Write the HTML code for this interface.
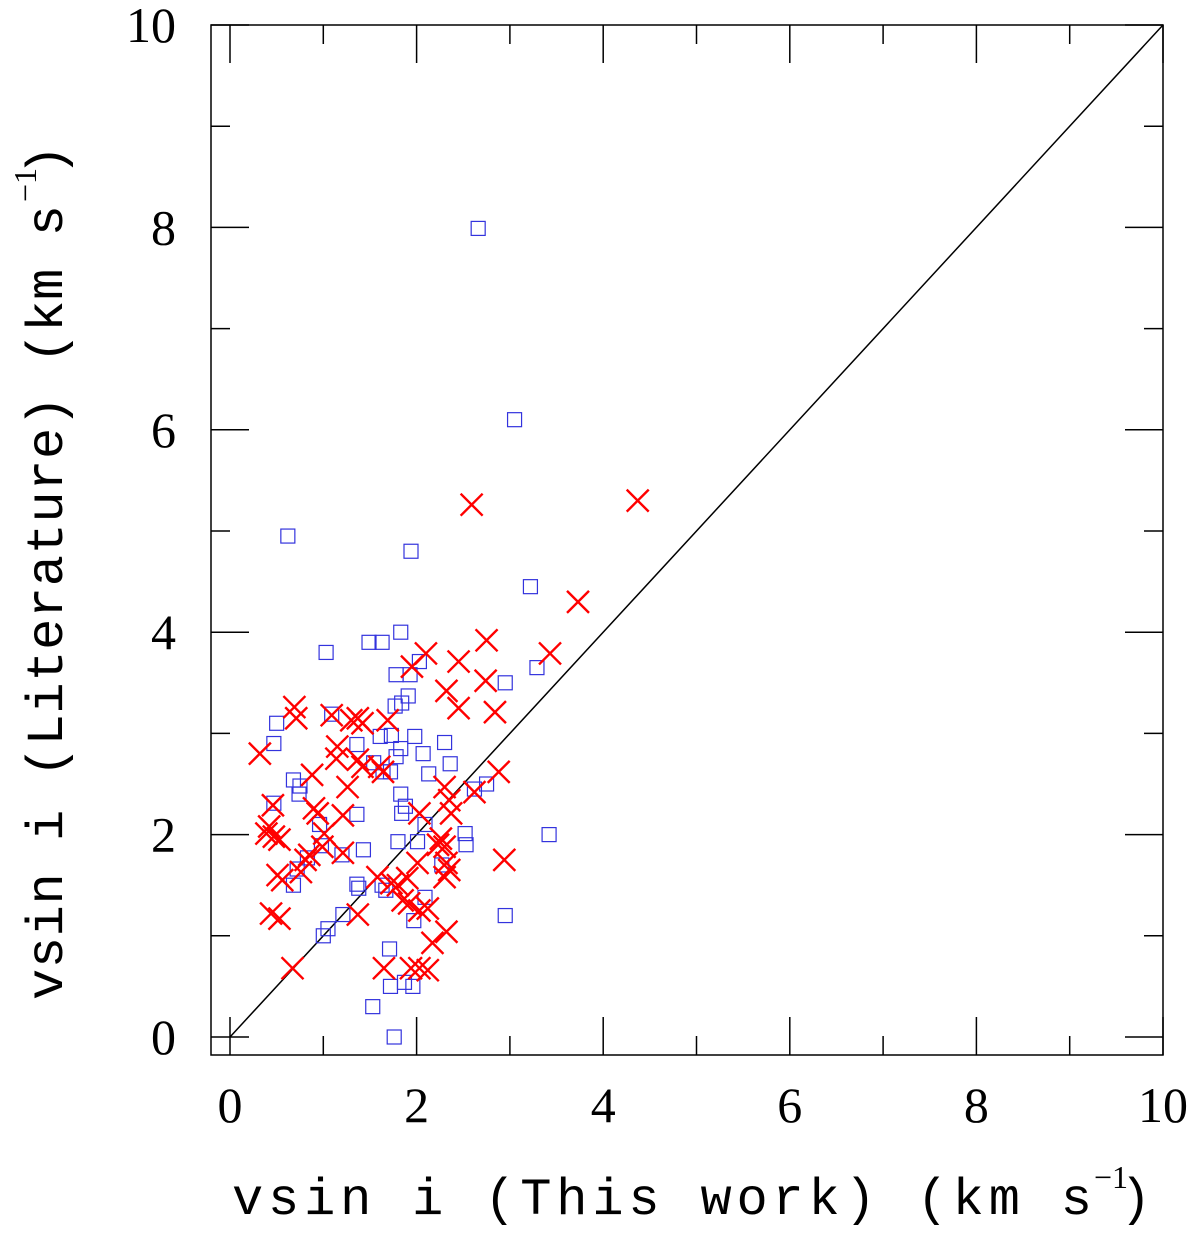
<!DOCTYPE html>
<html><head><meta charset="utf-8"><style>
html,body{margin:0;padding:0;background:#fff}
svg text{font-family:"Liberation Serif",serif;fill:#000}
svg text.mono{font-family:"Liberation Mono",monospace}
</style></head><body>
<svg id="chart" width="1200" height="1230" xmlns="http://www.w3.org/2000/svg">
<rect x="211" y="25" width="952" height="1030" fill="none" stroke="#000" stroke-width="1.5"/>
<g id="ticks"></g>
<g id="marks"></g>
<g>
<text class="mono" x="232" y="1214" font-size="52" textLength="860" lengthAdjust="spacing">vsin i (This work) (km s</text>
<text x="1094" y="1188" font-size="32">−1</text>
<text class="mono" x="1120" y="1214" font-size="52">)</text>
</g>
<g transform="translate(62,0) rotate(-90)">
<text class="mono" x="-1000" y="0" font-size="52" textLength="795" lengthAdjust="spacing">vsin i (Literature) (km s</text>
<text x="-202" y="-26" font-size="32">−1</text>
<text class="mono" x="-176" y="0" font-size="52">)</text>
</g>
</svg>
<script>
const blueX=[1.83,1.49,1.63,1.03,2.03,1.78,1.93,1.91,1.84,1.77,0.50,1.09,0.47,1.36,1.61,1.73,1.98,2.30,1.83,2.07,1.78,1.54,2.36,1.64,1.72,2.13,0.68,0.75,0.74,1.83,1.88,1.84,0.47,1.36,2.62,2.75,2.95,0.96,2.09,1.80,2.01,2.52,2.53,1.43,0.98,0.83,1.20,2.27,0.72,0.68,1.36,1.38,1.63,1.67,2.95,2.09,1.97,1.21,1.05,1.00,1.71,1.72,1.87,1.96,1.53,1.76,2.66,3.05,0.62,1.94,3.22,3.29,3.42];
const blueY=[4.00,3.90,3.90,3.80,3.71,3.58,3.58,3.37,3.30,3.27,3.10,3.19,2.90,2.89,2.97,2.98,2.97,2.91,2.85,2.80,2.77,2.71,2.70,2.62,2.62,2.60,2.54,2.48,2.40,2.40,2.28,2.21,2.31,2.20,2.45,2.50,3.50,2.10,2.10,1.93,1.93,2.01,1.90,1.85,1.89,1.77,1.80,1.70,1.66,1.50,1.51,1.47,1.50,1.45,1.20,1.38,1.15,1.21,1.07,1.00,0.87,0.50,0.54,0.50,0.30,0.00,7.99,6.10,4.95,4.80,4.45,3.65,2.00];
const redX=[2.75,2.10,2.45,1.95,2.74,2.32,2.45,2.84,0.69,0.71,1.09,1.30,1.37,1.42,1.69,0.32,1.15,1.14,1.37,1.42,1.60,1.64,0.88,1.26,2.88,2.30,2.35,2.37,2.62,2.03,0.46,0.90,0.94,1.21,0.42,0.47,0.53,0.39,1.01,2.26,2.30,2.23,0.85,0.81,0.99,1.21,2.01,2.94,2.32,2.35,0.51,0.56,0.76,1.58,1.73,1.80,1.90,2.30,1.85,1.92,2.03,2.12,1.37,0.44,0.53,2.32,2.17,0.67,1.65,1.94,2.03,2.12,2.59,4.37,3.73,3.43];
const redY=[3.92,3.79,3.71,3.66,3.52,3.42,3.25,3.21,3.26,3.15,3.18,3.13,3.15,3.10,3.13,2.80,2.87,2.75,2.74,2.67,2.67,2.62,2.59,2.47,2.62,2.47,2.34,2.21,2.42,2.21,2.29,2.26,2.21,2.19,2.08,1.98,1.95,2.01,2.01,1.96,1.88,1.90,1.80,1.75,1.88,1.82,1.72,1.75,1.72,1.65,1.60,1.55,1.63,1.58,1.52,1.50,1.57,1.58,1.35,1.32,1.25,1.27,1.21,1.22,1.17,1.04,0.93,0.68,0.68,0.68,0.68,0.66,5.26,5.30,4.30,3.79];
const xTicks=[0,2,4,6,8,10];
const yTicks=[0,2,4,6,8,10];
const xLabels=["0","2","4","6","8","10"];
const yLabels=["0","2","4","6","8","10"];
const NS="http://www.w3.org/2000/svg";
const L=211,R=1163,T=25,B=1055;
function sx(v){return 230+v*93.3;}
function sy(v){return 1037-v*101.2;}
function mk(tag,attrs,parent){const e=document.createElementNS(NS,tag);for(const k in attrs)e.setAttribute(k,attrs[k]);parent.appendChild(e);return e;}
const tg=document.getElementById('ticks');
for(let v=0;v<=10;v++){
  const major=v%2===0, len=major?38:19, x=sx(v), y=sy(v);
  let t=mk('line',{x1:x,x2:x,y1:B,y2:B-len,stroke:'#000','stroke-width':1.5},tg);
  
  
  t=mk('line',{x1:x,x2:x,y1:T,y2:T+len,stroke:'#000','stroke-width':1.5},tg);
  
  
  t=mk('line',{x1:L,x2:L+len,y1:y,y2:y,stroke:'#000','stroke-width':1.5},tg);
  
  
  t=mk('line',{x1:R,x2:R-len,y1:y,y2:y,stroke:'#000','stroke-width':1.5},tg);
  
  
}
xTicks.forEach((v,i)=>{
  const t=mk('text',{x:sx(v),y:1122,'font-size':50,'text-anchor':'middle'},tg);
  t.textContent=xLabels[i];
  
  
});
yTicks.forEach((v,i)=>{
  const t=mk('text',{x:176,y:sy(v)+17,'font-size':50,'text-anchor':'end'},tg);
  t.textContent=yLabels[i];
  
  
});
const mg=document.getElementById('marks');
const dl=mk('line',{x1:sx(0),y1:sy(0),x2:sx(10),y2:sy(10),stroke:'#000','stroke-width':1.5},mg);


blueX.forEach((v,i)=>{
  const s=mk('rect',{x:sx(v)-7,y:sy(blueY[i])-7,width:14,height:14,fill:'none',stroke:'#3333dd','stroke-width':1.2},mg);
  
  
});
redX.forEach((v,i)=>{
  const cx=sx(v),cy=sy(redY[i]),h=11;
  const p=mk('path',{d:`M${cx-h},${cy-h}L${cx+h},${cy+h}M${cx-h},${cy+h}L${cx+h},${cy-h}`,stroke:'#ff0000','stroke-width':2.4,fill:'none'},mg);
  
  
});
</script>
</body></html>
